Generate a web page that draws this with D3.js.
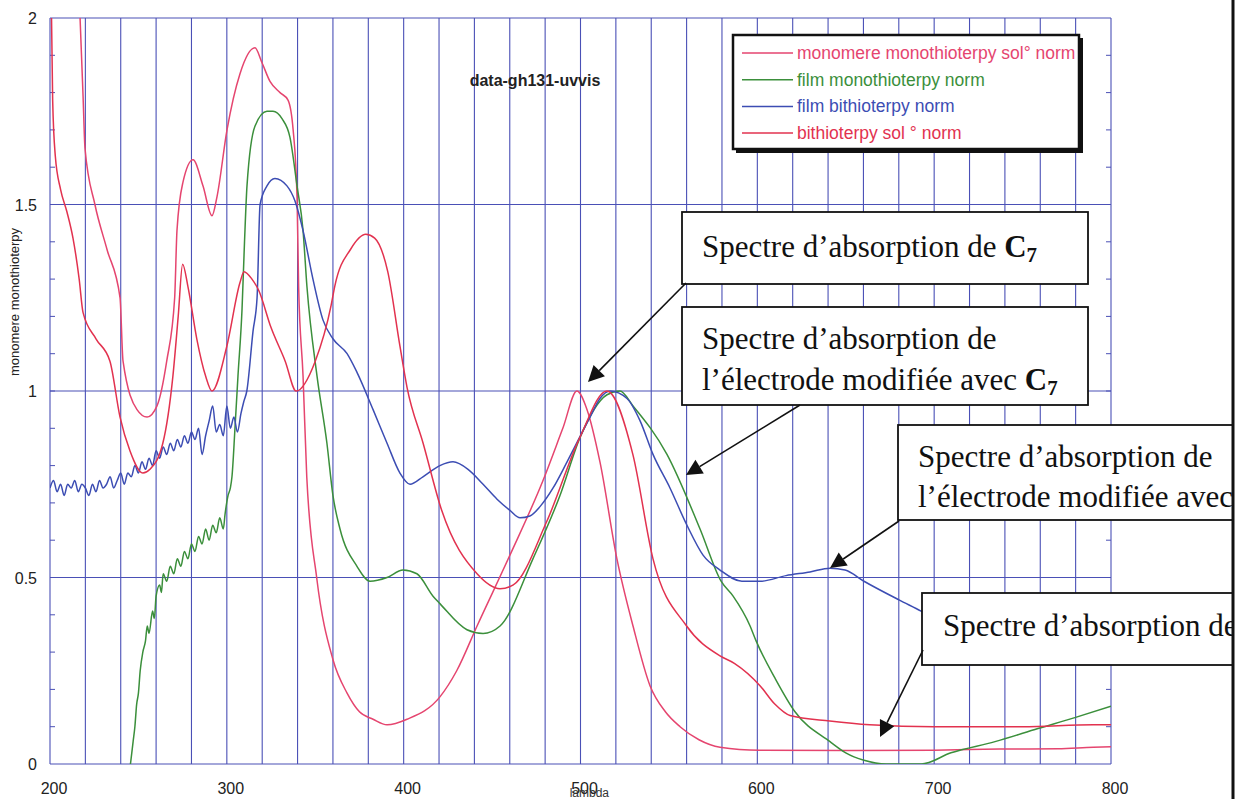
<!DOCTYPE html>
<html><head><meta charset="utf-8">
<script src="https://cdn.jsdelivr.net/npm/d3@7/dist/d3.min.js"></script>
<style>html,body{margin:0;padding:0;background:#fff;}svg{display:block;}</style>
</head><body>
<svg id="chart" width="1240" height="799"></svg>
<script>
// ---------- DATA ----------
const seriesNames = ["monomere monothioterpy sol° norm","film monothioterpy norm","film bithioterpy norm","bithioterpy sol ° norm"];
const seriesColors = ["#e5456f","#3b8f3b","#3c4db3","#e2324f"];
const xTicks = [200,300,400,500,600,700,800];
const yTicks = [0,0.5,1,1.5,2];
const yTickLabels = ["0","0.5","1","1.5","2"];

// monomere monothioterpy sol° norm  [nm, value]
const monomereSol = [[210,2.6],[217,2.0],[218.7,1.79],[219.8,1.65],[225.4,1.5],[232.2,1.38],[239.6,1.25],[241.3,1.08],[249.2,0.95],[254.9,0.93],[260.5,0.96],[266,1.08],[270.5,1.25],[271.8,1.43],[275.2,1.56],[280.9,1.62],[286.5,1.55],[291.6,1.47],[294.4,1.52],[300.1,1.70],[307.4,1.85],[315.9,1.92],[319.9,1.88],[324.4,1.83],[330.1,1.80],[334.6,1.78],[337.5,1.70],[339.7,1.52],[340.6,1.28],[343.1,1.04],[345.2,0.77],[350.8,0.50],[360,0.28],[368,0.19],[375,0.14],[382.7,0.12],[390.6,0.105],[401.9,0.12],[420.5,0.18],[430,0.25],[441.5,0.37],[460.1,0.56],[478.8,0.76],[490,0.90],[498,1.0],[503.7,0.95],[511,0.81],[520.6,0.55],[529.7,0.37],[539.3,0.21],[548,0.14],[556.3,0.10],[567,0.065],[578.9,0.045],[601.5,0.037],[652,0.036],[700,0.037],[737,0.04],[770,0.041],[790,0.045],[800,0.046]];

// film monothioterpy norm
const filmMono = [[245.5,0],[247,0.06],[248,0.10],[249,0.16],[250,0.19],[251,0.25],[252.5,0.30],[254,0.33],[255,0.37],[256,0.35],[258,0.41],[259,0.39],[260,0.45],[262,0.48],[263,0.46],[264,0.51],[266,0.49],[268,0.53],[270,0.51],[272,0.55],[274,0.53],[276,0.57],[278,0.55],[280,0.59],[282,0.57],[284,0.61],[286,0.59],[288,0.63],[290,0.60],[292,0.64],[294,0.62],[296,0.66],[298,0.63],[299,0.67],[300.7,0.72],[302,0.74],[302.9,0.77],[304.6,0.90],[306.3,1.04],[308.6,1.22],[310,1.40],[311.4,1.55],[315.9,1.71],[322.7,1.75],[326.1,1.75],[331.2,1.73],[335.7,1.68],[339.7,1.55],[343.1,1.43],[345.3,1.28],[351,1.04],[356.6,0.86],[360,0.72],[364,0.63],[373.6,0.53],[381,0.49],[390.6,0.50],[399.6,0.52],[407.5,0.51],[416.6,0.45],[420.5,0.43],[435.8,0.36],[444.9,0.35],[454.5,0.37],[473.1,0.55],[488.4,0.72],[499.7,0.875],[515,0.99],[522.3,1.0],[529.7,0.96],[548.9,0.83],[567.6,0.63],[579.5,0.49],[586.3,0.45],[595.9,0.37],[599.3,0.33],[610,0.23],[621.3,0.14],[641.1,0.06],[650,0.03],[660.3,0.01],[672.8,0.0],[692.6,0.0],[709.5,0.03],[734.4,0.06],[758.7,0.095],[780,0.125],[800,0.155]];

// film bithioterpy norm
const filmBi = [[200,0.74],[202,0.76],[204,0.73],[206,0.75],[208,0.72],[210,0.75],[212,0.74],[214,0.76],[216,0.73],[218,0.75],[220,0.74],[222,0.72],[224,0.75],[226,0.73],[228,0.76],[230,0.74],[232,0.75],[234,0.77],[236,0.74],[238,0.76],[240,0.78],[242,0.75],[244,0.78],[246,0.77],[248,0.80],[250,0.78],[252,0.81],[254,0.79],[256,0.82],[258,0.80],[260,0.84],[262,0.82],[264,0.85],[266,0.83],[268,0.86],[270,0.84],[272,0.87],[274,0.85],[276,0.88],[278,0.86],[280,0.89],[282,0.87],[284,0.90],[286,0.83],[288,0.88],[290,0.92],[292,0.96],[294,0.89],[296,0.91],[298,0.88],[300,0.96],[302,0.90],[304,0.93],[306,0.89],[308,0.94],[309.5,0.97],[311.3,1.0],[314.8,1.16],[317.1,1.25],[318.8,1.5],[322.7,1.55],[327.2,1.57],[334,1.55],[338.5,1.51],[343.1,1.43],[348.7,1.30],[354.4,1.19],[360,1.14],[368,1.10],[373.6,1.05],[382.7,0.95],[390.6,0.86],[397.9,0.78],[403.6,0.75],[410.9,0.77],[420.5,0.80],[427.9,0.81],[436.4,0.79],[444.9,0.75],[452.8,0.71],[460.1,0.68],[465.8,0.66],[471.4,0.665],[477.1,0.69],[484.5,0.74],[492.4,0.81],[505.4,0.93],[511,0.98],[516.7,1.0],[526.3,0.98],[533.7,0.92],[541,0.83],[550.6,0.74],[560.2,0.64],[569.3,0.56],[578.9,0.52],[591.3,0.49],[601.5,0.49],[616.2,0.505],[629.8,0.515],[641.1,0.525],[649.6,0.52],[660.3,0.49],[680.1,0.44],[692.6,0.41],[700.5,0.39]];

// bithioterpy sol ° norm
const bithioSol = [[200,2.3],[201.5,1.78],[203,1.63],[206,1.54],[209.6,1.48],[213,1.41],[216.5,1.30],[218.7,1.21],[226,1.14],[233.9,1.08],[239.6,0.93],[245.2,0.84],[252.5,0.78],[256.5,0.79],[263.8,0.86],[269.5,1.04],[272.5,1.20],[275,1.34],[278,1.28],[283,1.14],[288,1.04],[291.6,1.0],[300,1.12],[307.4,1.29],[309.7,1.32],[314.2,1.30],[318,1.27],[325,1.17],[333,1.08],[339.2,1.0],[350,1.08],[359,1.23],[361,1.28],[370,1.38],[378.6,1.42],[383.6,1.41],[391,1.32],[397.9,1.12],[401.9,1.01],[411,0.86],[421.5,0.68],[441.5,0.51],[454.5,0.47],[462,0.48],[480.9,0.65],[499.6,0.875],[514.9,1.0],[529.6,0.83],[541,0.55],[560,0.37],[578.9,0.29],[587,0.27],[601.5,0.21],[610,0.16],[618.5,0.13],[641,0.115],[663.6,0.105],[700,0.10],[750,0.10],[790,0.105],[800,0.105]];

const allSeries = [monomereSol, filmMono, filmBi, bithioSol];

// ---------- DRAW ----------
const svg = d3.select("#chart");
const x = d3.scaleLinear().domain([200,800]).range([50,1111]);
const y = d3.scaleLinear().domain([0,2]).range([764,18]);
const gridColor = "#4a50b6";

svg.append("defs").append("clipPath").attr("id","plotclip")
  .append("rect").attr("x",x(200)).attr("y",y(2)).attr("width",x(800)-x(200)).attr("height",y(0)-y(2));

const grid = svg.append("g");
grid.selectAll("line.v").data(d3.range(200,801,20)).join("line").attr("class","v")
  .attr("x1",d=>x(d)).attr("x2",d=>x(d)).attr("y1",y(0)).attr("y2",y(2))
  .attr("stroke",gridColor).attr("stroke-width",1.1);
grid.selectAll("line.h").data(yTicks).join("line").attr("class","h")
  .attr("x1",x(200)).attr("x2",x(800)).attr("y1",d=>y(d)).attr("y2",d=>y(d))
  .attr("stroke",gridColor).attr("stroke-width",1.2);
const minor = d3.range(1,20).map(i=>i/10);
grid.selectAll("line.ml").data(minor).join("line").attr("class","ml")
  .attr("x1",x(200)).attr("x2",x(200)+5).attr("y1",d=>y(d)).attr("y2",d=>y(d))
  .attr("stroke",gridColor).attr("stroke-width",1);
grid.selectAll("line.mr").data(minor).join("line").attr("class","mr")
  .attr("x1",x(800)-5).attr("x2",x(800)).attr("y1",d=>y(d)).attr("y2",d=>y(d))
  .attr("stroke",gridColor).attr("stroke-width",1);

// axes labels
const yl = svg.append("g").attr("font-family","Liberation Sans, Arial, sans-serif").attr("font-size",16).attr("fill","#222");
yl.selectAll("text").data(yTicks).join("text")
  .attr("x",37).attr("y",d=>y(d)+6).attr("text-anchor","end").text((d,i)=>yTickLabels[i]);
const xl = svg.append("g").attr("font-family","Liberation Sans, Arial, sans-serif").attr("font-size",16).attr("fill","#222");
xl.selectAll("text").data(xTicks).join("text")
  .attr("x",d=>x(d)+4).attr("y",794).attr("text-anchor","middle").text(d=>d);
svg.append("text").attr("x",x(505)).attr("y",797).attr("text-anchor","middle")
  .attr("font-family","Liberation Sans, Arial, sans-serif").attr("font-size",12).attr("fill","#333").text("lambda");
svg.append("text").attr("transform","translate(19,302) rotate(-90)").attr("text-anchor","middle")
  .attr("font-family","Liberation Sans, Arial, sans-serif").attr("font-size",13).attr("fill","#222").text("monomere monothioterpy");
svg.append("text").attr("x",535).attr("y",86).attr("text-anchor","middle")
  .attr("font-family","Liberation Sans, Arial, sans-serif").attr("font-size",16).attr("font-weight","bold").attr("fill","#222").text("data-gh131-uvvis");

// curves
const line = d3.line().x(d=>x(d[0])).y(d=>y(d[1])).curve(d3.curveMonotoneX);
const curves = svg.append("g").attr("clip-path","url(#plotclip)");
allSeries.forEach((s,i)=>{
  curves.append("path").datum(s).attr("d",line).attr("fill","none")
    .attr("stroke",seriesColors[i]).attr("stroke-width",1.5).attr("stroke-linejoin","round");
});

// legend
const lg = svg.append("g");
lg.append("rect").attr("x",736).attr("y",38).attr("width",347).attr("height",115).attr("fill","#111");
lg.append("rect").attr("x",733).attr("y",35).attr("width",346).attr("height",114).attr("fill","#fff").attr("stroke","#111").attr("stroke-width",2.5);
seriesNames.forEach((n,i)=>{
  const yy = 53 + i*26.7;
  lg.append("line").attr("x1",742).attr("x2",793).attr("y1",yy).attr("y2",yy).attr("stroke",seriesColors[i]).attr("stroke-width",1.5);
  lg.append("text").attr("x",797).attr("y",yy+6).attr("font-family","Liberation Sans, Arial, sans-serif")
    .attr("font-size",17.5).attr("fill",seriesColors[i]).text(n);
});

// annotations
const ann = svg.append("g").attr("font-family","Liberation Serif, Times New Roman, serif").attr("font-size",31).attr("fill","#111");
svg.append("defs").append("clipPath").attr("id","pageclip").append("rect").attr("x",0).attr("y",0).attr("width",1233).attr("height",799);
ann.attr("clip-path","url(#pageclip)");
function box(x0,y0,w,h){ ann.append("rect").attr("x",x0).attr("y",y0).attr("width",w).attr("height",h).attr("fill","#fff").attr("stroke","#111").attr("stroke-width",1.8); }
function arrow(x1,y1,x2,y2){
  const a = Math.atan2(y2-y1,x2-x1), L=16, W=8;
  const bx = x2 - L*Math.cos(a), by = y2 - L*Math.sin(a);
  ann.append("line").attr("x1",x1).attr("y1",y1).attr("x2",bx).attr("y2",by).attr("stroke","#111").attr("stroke-width",1.6);
  ann.append("path").attr("d",`M${x2},${y2}L${bx+W*Math.sin(a)},${by-W*Math.cos(a)}L${bx-W*Math.sin(a)},${by+W*Math.cos(a)}Z`).attr("fill","#111");
}
function c7(t){ t.append("tspan").attr("font-weight","bold").text("C"); t.append("tspan").attr("font-size",21).attr("font-weight","bold").attr("dy",5).text("7"); }

box(682,212,406,72);
let t = ann.append("text").attr("x",702).attr("y",257); t.append("tspan").text("Spectre d’absorption de "); c7(t);
box(682,307,406,98);
ann.append("text").attr("x",702).attr("y",349).text("Spectre d’absorption de");
t = ann.append("text").attr("x",702).attr("y",390); t.append("tspan").text("l’électrode modifiée avec "); c7(t);
box(898,425,360,95);
ann.append("text").attr("x",918).attr("y",467).text("Spectre d’absorption de");
ann.append("text").attr("x",918).attr("y",507).text("l’électrode modifiée avec C");
box(922,593,340,72);
ann.append("text").attr("x",943).attr("y",636).text("Spectre d’absorption de C");

arrow(686,283,588,382);
arrow(800,405,686,475);
arrow(899,521,830,568);
arrow(923,650,880,737);

// page border
svg.append("line").attr("x1",1233).attr("x2",1233).attr("y1",0).attr("y2",799).attr("stroke","#111").attr("stroke-width",3);
</script>
</body></html>
